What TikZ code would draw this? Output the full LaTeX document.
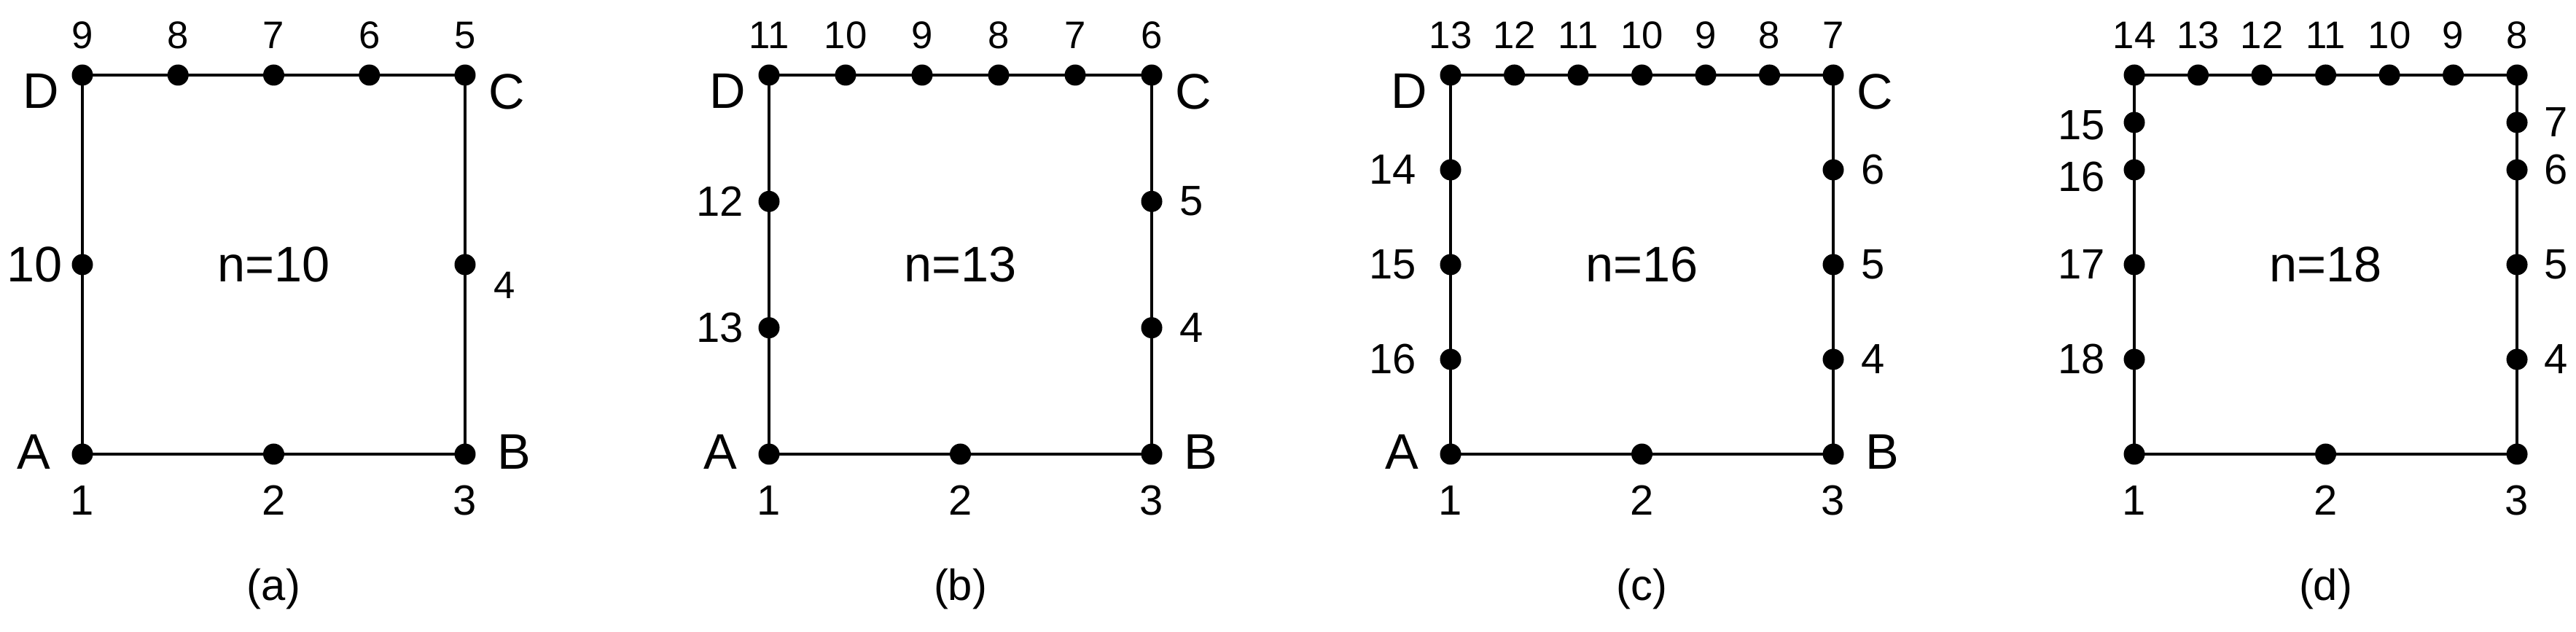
\documentclass[tikz,border=0pt]{standalone}
\usepackage{fontspec}
\setmainfont{Liberation Sans}
\usetikzlibrary{positioning}
\tikzset{
  dot/.style      = {circle, fill=black, inner sep=0pt, minimum size=2.9mm},
  side/.style     = {line width=1.3pt},
  num/.style      = {inner sep=0pt, font=\fontsize{15}{18}\selectfont},
  numl/.style     = {inner sep=0pt, font=\fontsize{16.5}{20}\selectfont},
  corner/.style   = {inner sep=0pt, font=\fontsize{19.5}{23}\selectfont},
  ntext/.style    = {inner sep=0pt, font=\fontsize{19.5}{23}\selectfont},
  sublabel/.style = {inner sep=0pt, font=\fontsize{17}{20}\selectfont},
}

\begin{document}
\begin{tikzpicture}
  \useasboundingbox (0,0) rectangle (35.34,8.67);

  % (a) n=10
  \begin{scope}[shift={(1.13,2.44)}]
    \node[dot] (a1) at (0,0) {};
    \node[dot] (a2) at (2.625,0) {};
    \node[dot] (a3) at (5.25,0) {};
    \node[dot] (a4) at (5.25,2.6) {};
    \node[dot] (a5) at (5.25,5.2) {};
    \foreach \i in {6,7,8}
      \node[dot] (a\i) at ({5.25*(9-\i)/4},5.2) {};
    \node[dot] (a9) at (0,5.2) {};
    \node[dot] (a10) at (0,2.6) {};
    \draw[side] (a1.center) -- (a3.center) -- (a5.center) -- (a9.center) -- cycle;
    \foreach \i in {1,2,3} \node[numl, below=2.75mm of a\i] {\i};
    \foreach \i in {5,...,9} \node[num, above=2.05mm of a\i] {\i};
    \node[num, right=2.4mm of a4, yshift=-2.8mm] {4};
    \node[corner, left=1.1mm of a10] {10};
    \node[corner, left=2.8mm of a1, yshift=0.35mm] (lA) {A};
    \node[corner, right=2.9mm of a3, yshift=0.35mm] (lB) {B};
    \node[corner, anchor=north west, xshift=3.2mm, yshift=0.2mm] (lC) at (a5.center) {C};
    \node[corner, anchor=north east, xshift=-3.1mm, yshift=0.2mm] (lD) at (a9.center) {D};
    \node[ntext] (na) at (2.625,2.6) {n=10};
    \node[sublabel] (capa) at (2.625,-1.85) {(a)};
  \end{scope}

  % (b) n=13
  \begin{scope}[shift={(10.55,2.44)}]
    \node[dot] (b1) at (0,0) {};
    \node[dot] (b2) at (2.625,0) {};
    \node[dot] (b3) at (5.25,0) {};
    \node[dot] (b4) at (5.25,1.7333) {};
    \node[dot] (b5) at (5.25,3.4667) {};
    \node[dot] (b6) at (5.25,5.2) {};
    \foreach \i in {7,...,10}
      \node[dot] (b\i) at ({5.25*(11-\i)/5},5.2) {};
    \node[dot] (b11) at (0,5.2) {};
    \node[dot] (b12) at (0,3.4667) {};
    \node[dot] (b13) at (0,1.7333) {};
    \draw[side] (b1.center) -- (b3.center) -- (b6.center) -- (b11.center) -- cycle;
    \foreach \i in {1,2,3} \node[numl, below=2.75mm of b\i] {\i};
    \foreach \i in {6,...,11} \node[num, above=2.05mm of b\i] {\i};
    \foreach \i in {4,5} \node[numl, right=2.3mm of b\i] {\i};
    \foreach \i in {12,13} \node[numl, left=1.9mm of b\i] {\i};
    \node[corner, left=2.8mm of b1, yshift=0.35mm] (mA) {A};
    \node[corner, right=2.9mm of b3, yshift=0.35mm] (mB) {B};
    \node[corner, anchor=north west, xshift=3.2mm, yshift=0.2mm] (mC) at (b6.center) {C};
    \node[corner, anchor=north east, xshift=-3.1mm, yshift=0.2mm] (mD) at (b11.center) {D};
    \node[ntext] (nb) at (2.625,2.6) {n=13};
    \node[sublabel] (capb) at (2.625,-1.85) {(b)};
  \end{scope}

  % (c) n=16
  \begin{scope}[shift={(19.90,2.44)}]
    \node[dot] (c1) at (0,0) {};
    \node[dot] (c2) at (2.625,0) {};
    \node[dot] (c3) at (5.25,0) {};
    \foreach \i in {4,5,6}
      \node[dot] (c\i) at (5.25,{5.2*(\i-3)/4}) {};
    \node[dot] (c7) at (5.25,5.2) {};
    \foreach \i in {8,...,12}
      \node[dot] (c\i) at ({5.25*(13-\i)/6},5.2) {};
    \node[dot] (c13) at (0,5.2) {};
    \foreach \i in {14,15,16}
      \node[dot] (c\i) at (0,{5.2*(17-\i)/4}) {};
    \draw[side] (c1.center) -- (c3.center) -- (c7.center) -- (c13.center) -- cycle;
    \foreach \i in {1,2,3} \node[numl, below=2.75mm of c\i] {\i};
    \foreach \i in {7,...,13} \node[num, above=2.05mm of c\i] {\i};
    \foreach \i in {4,5,6} \node[numl, right=2.3mm of c\i] {\i};
    \foreach \i in {14,15,16} \node[numl, left=3.1mm of c\i] {\i};
    \node[corner, left=2.8mm of c1, yshift=0.35mm] (kA) {A};
    \node[corner, right=2.9mm of c3, yshift=0.35mm] (kB) {B};
    \node[corner, anchor=north west, xshift=3.2mm, yshift=0.2mm] (kC) at (c7.center) {C};
    \node[corner, anchor=north east, xshift=-3.1mm, yshift=0.2mm] (kD) at (c13.center) {D};
    \node[ntext] (nc) at (2.625,2.6) {n=16};
    \node[sublabel] (capc) at (2.625,-1.85) {(c)};
  \end{scope}

  % (d) n=18
  \begin{scope}[shift={(29.28,2.44)}]
    \node[dot] (d1) at (0,0) {};
    \node[dot] (d2) at (2.625,0) {};
    \node[dot] (d3) at (5.25,0) {};
    \foreach \i/\y in {4/1.3, 5/2.6, 6/3.9, 7/4.55}
      \node[dot] (d\i) at (5.25,\y) {};
    \node[dot] (d8) at (5.25,5.2) {};
    \foreach \i in {9,...,13}
      \node[dot] (d\i) at ({5.25*(14-\i)/6},5.2) {};
    \node[dot] (d14) at (0,5.2) {};
    \foreach \i/\y in {15/4.55, 16/3.9, 17/2.6, 18/1.3}
      \node[dot] (d\i) at (0,\y) {};
    \draw[side] (d1.center) -- (d3.center) -- (d8.center) -- (d14.center) -- cycle;
    \foreach \i in {1,2,3} \node[numl, below=2.75mm of d\i] {\i};
    \foreach \i in {8,...,14} \node[num, above=2.05mm of d\i] {\i};
    \foreach \i in {4,...,7} \node[numl, right=2.2mm of d\i] {\i};
    \node[numl, left=2.4mm of d15, yshift=-0.4mm] {15};
    \node[numl, left=2.4mm of d16, yshift=-1mm] {16};
    \node[numl, left=2.4mm of d17] {17};
    \node[numl, left=2.4mm of d18] {18};
    \node[ntext] (nd) at (2.625,2.6) {n=18};
    \node[sublabel] (capd) at (2.625,-1.85) {(d)};
  \end{scope}
\end{tikzpicture}
\end{document}
